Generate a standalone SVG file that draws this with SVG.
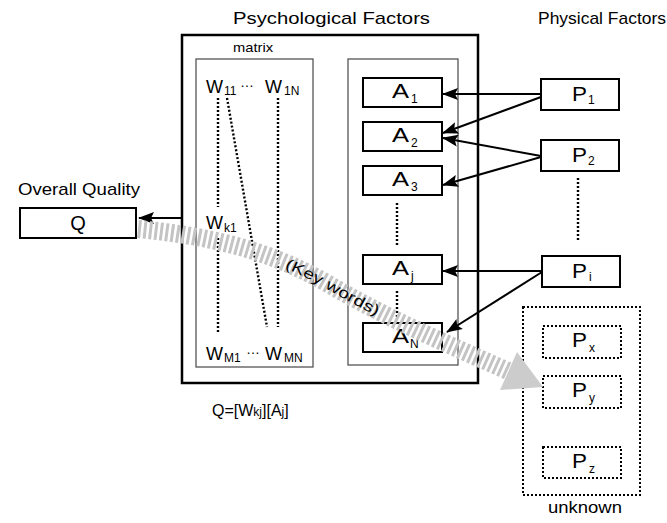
<svg xmlns="http://www.w3.org/2000/svg" width="667" height="523" viewBox="0 0 667 523">
<defs>
<style>
.box{fill:#fff;stroke:#000;stroke-width:2}
.inner{fill:none;stroke:#555;stroke-width:1.3}
.main{fill:none;stroke:#000;stroke-width:2.5}
.dbox{fill:none;stroke:#000;stroke-width:2;stroke-dasharray:2,2}
.dot{fill:none;stroke:#000;stroke-width:2.4;stroke-dasharray:2,2}
.con{fill:none;stroke:#000;stroke-width:2}
.t{font-family:"Liberation Sans",Arial,sans-serif;fill:#000}
.big{font-size:20px}
.w{font-size:18px}
.sub{font-size:12px}
.lbl{font-size:17px}
</style>
<marker id="ah" markerUnits="userSpaceOnUse" markerWidth="20" markerHeight="14" refX="15" refY="0" viewBox="0 -7 20 14" orient="auto" overflow="visible">
<path d="M0,-6 L16,0 L0,6 L3,0 Z" fill="#000"/>
</marker>
</defs>
<rect width="667" height="523" fill="#fff"/>

<g id="titles" class="t lbl">
<text x="233" y="24" textLength="197" lengthAdjust="spacingAndGlyphs">Psychological Factors</text>
<text x="538" y="24" textLength="128" lengthAdjust="spacingAndGlyphs">Physical Factors</text>
<text x="18" y="195" textLength="122" lengthAdjust="spacingAndGlyphs">Overall Quality</text>
</g>

<g id="psych">
<rect class="main" x="182" y="35" width="296" height="348"/>
</g>

<g id="matrix">
<rect class="inner" x="196" y="59" width="117" height="308"/>
<text class="t" x="233" y="52" font-size="13" textLength="40" lengthAdjust="spacingAndGlyphs">matrix</text>
<line class="dot" x1="218" y1="98" x2="218" y2="207"/>
<line class="dot" x1="218" y1="238" x2="218" y2="332"/>
<line class="dot" x1="227" y1="98" x2="267" y2="327"/>
<line class="dot" x1="278" y1="98" x2="278" y2="327"/>
<g class="t">
<text class="w" x="206" y="93">W</text><text class="sub" x="224" y="95" font-size="13">11</text><text x="240" y="87" font-size="14">…</text>
<text class="w" x="265" y="93">W</text><text class="sub" x="284" y="95">1N</text>
<text class="w" x="206" y="229">W</text><text class="sub" x="224" y="232">k1</text>
<text class="w" x="206" y="360">W</text><text class="sub" x="224" y="362">M1</text><text x="246" y="354" font-size="14">…</text>
<text class="w" x="265" y="360">W</text><text class="sub" x="284" y="362">MN</text>
</g>
</g>

<g id="attributes">
<rect class="inner" x="348" y="59" width="110" height="306"/>
<line class="dot" x1="397" y1="203" x2="397" y2="247"/>
<line class="dot" x1="397" y1="291" x2="397" y2="318"/>
</g>
<g id="A1"><rect class="box" x="363" y="78" width="79" height="29"/><text class="t big" x="392" y="98" textLength="17" lengthAdjust="spacingAndGlyphs">A</text><text class="t sub" x="411" y="103">1</text></g>
<g id="A2"><rect class="box" x="363" y="122" width="79" height="29"/><text class="t big" x="392" y="142" textLength="17" lengthAdjust="spacingAndGlyphs">A</text><text class="t sub" x="411" y="147">2</text></g>
<g id="A3"><rect class="box" x="363" y="166" width="79" height="29"/><text class="t big" x="392" y="186" textLength="17" lengthAdjust="spacingAndGlyphs">A</text><text class="t sub" x="411" y="191">3</text></g>
<g id="Aj"><rect class="box" x="363" y="255" width="79" height="29"/><text class="t big" x="392" y="275" textLength="17" lengthAdjust="spacingAndGlyphs">A</text><text class="t sub" x="411" y="280">j</text></g>
<g id="AN"><rect class="box" x="363" y="323" width="79" height="29"/><text class="t big" x="392" y="343" textLength="17" lengthAdjust="spacingAndGlyphs">A</text><text class="t sub" x="410" y="348">N</text></g>

<g id="P1"><rect class="box" x="541" y="79" width="78" height="31"/><text class="t big" x="572" y="101" textLength="15" lengthAdjust="spacingAndGlyphs">P</text><text class="t sub" x="588" y="104">1</text></g>
<g id="P2"><rect class="box" x="541" y="140" width="78" height="31"/><text class="t big" x="572" y="162" textLength="15" lengthAdjust="spacingAndGlyphs">P</text><text class="t sub" x="588" y="165">2</text></g>
<g id="Pi"><rect class="box" x="542" y="256" width="78" height="31"/><text class="t big" x="572" y="278" textLength="15" lengthAdjust="spacingAndGlyphs">P</text><text class="t sub" x="589" y="281">i</text></g>
<line class="dot" x1="578" y1="178" x2="578" y2="242"/>

<g id="unknown">
<rect class="dbox" x="523" y="307" width="117" height="188"/>
<text class="t lbl" x="548" y="513" textLength="74" lengthAdjust="spacingAndGlyphs">unknown</text>
</g>
<g id="Px"><rect class="dbox" x="543" y="326" width="78" height="32"/><text class="t big" x="572" y="347" textLength="15" lengthAdjust="spacingAndGlyphs">P</text><text class="t sub" x="589" y="352">x</text></g>
<g id="Py"><rect class="dbox" x="543" y="376" width="78" height="32"/><text class="t big" x="572" y="397" textLength="15" lengthAdjust="spacingAndGlyphs">P</text><text class="t sub" x="589" y="402">y</text></g>
<g id="Pz"><rect class="dbox" x="543" y="447" width="78" height="31"/><text class="t big" x="572" y="468" textLength="15" lengthAdjust="spacingAndGlyphs">P</text><text class="t sub" x="589" y="473">z</text></g>

<g id="Q"><rect class="box" x="20" y="208" width="116" height="30"/><text class="t big" x="78" y="230" text-anchor="middle">Q</text></g>

<g id="formula" class="t">
<text x="212" y="416" font-size="16">Q=[W<tspan font-size="12">kj</tspan>][A<tspan font-size="12">j</tspan>]</text>
</g>

<g id="connectors">
<line class="con" x1="541" y1="94" x2="443" y2="94" marker-end="url(#ah)"/>
<line class="con" x1="541" y1="97" x2="443" y2="133" marker-end="url(#ah)"/>
<line class="con" x1="541" y1="156" x2="443" y2="138" marker-end="url(#ah)"/>
<line class="con" x1="541" y1="157" x2="443" y2="185" marker-end="url(#ah)"/>
<line class="con" x1="542" y1="271" x2="443" y2="271" marker-end="url(#ah)"/>
<line class="con" x1="542" y1="272" x2="447" y2="332" marker-end="url(#ah)"/>
<line class="con" x1="182" y1="218" x2="139" y2="218" marker-end="url(#ah)"/>
</g>

<g id="keywords">
<path id="band" d="M138,229 C210,236 270,250 330,285 S450,345 508,371" fill="none" stroke="#c4c4c4" stroke-width="18" stroke-dasharray="3,2.5"/>
<polygon points="517,352 543,387 500,390" fill="#cccccc"/>
<text class="t" font-size="15" dy="5"><textPath href="#band" startOffset="153" textLength="104" lengthAdjust="spacingAndGlyphs">(Key words)</textPath></text>
</g>
</svg>
